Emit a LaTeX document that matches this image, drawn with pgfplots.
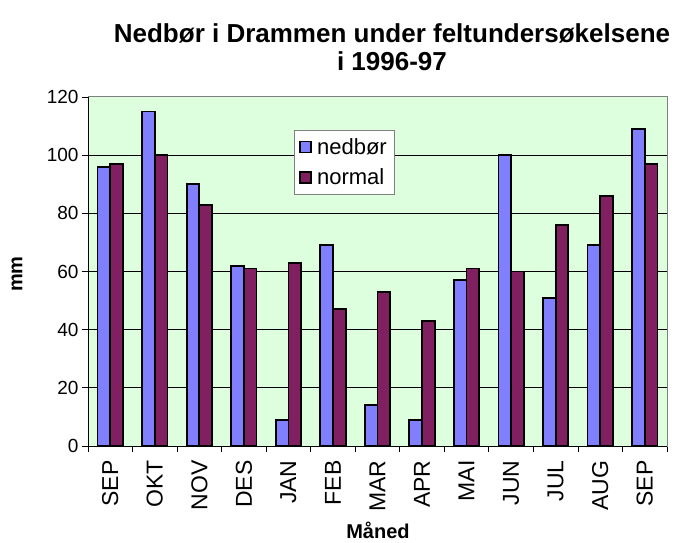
\documentclass[border=0pt]{standalone}
\usepackage{pgfplots}
\pgfplotsset{compat=1.18}
\usepackage{fontspec}
\setmainfont{Liberation Sans}
\definecolor{plotbg}{RGB}{221,255,221}
\definecolor{nedbor}{RGB}{128,128,255}
\definecolor{normalc}{RGB}{128,32,96}
\begin{document}
\begin{tikzpicture}
\useasboundingbox (-88bp,-97bp) rectangle (592bp,446bp);
\begin{axis}[
  scale only axis, width=579bp, height=349bp,
  ybar=0pt, bar width=0.285,
  xmin=-0.5, xmax=12.5, ymin=0, ymax=120,
  xtick={0,...,12},
  xticklabels={SEP,OKT,NOV,DES,JAN,FEB,MAR,APR,MAI,JUN,JUL,AUG,SEP},
  minor xtick={-0.5,0.5,...,12.5},
  major x tick style={draw=none},
  ytick={0,20,...,100},
  extra y ticks={120}, extra y tick style={grid=none},
  ymajorgrids, grid style={black, line width=0.8bp},
  tick align=outside, tick pos=left,
  major tick length=6bp, minor tick length=6bp,
  tick style={black, line width=0.8bp},
  axis background/.style={fill=plotbg},
  axis line style={gray, line width=1bp},
  /pgf/number format/assume math mode=true,
  y tick label style={font=\fontsize{19bp}{22bp}\selectfont},
  x tick label style={rotate=90, anchor=east, font=\fontsize{23bp}{26bp}\selectfont},
  xticklabel shift=5bp,
  clip=false,
  legend style={at={(0.356,0.905)}, anchor=north west, draw=gray, fill=white,
    font=\fontsize{22bp}{25bp}\selectfont, row sep=9bp, inner xsep=5bp, inner ysep=6bp,
    cells={anchor=west}, /tikz/every odd column/.append style={column sep=3bp}},
  legend image code/.code={\draw[#1, draw=black, line width=1.8bp] (0bp,-5.5bp) rectangle (11bp,5.5bp);},
]
\addplot[fill=nedbor, draw=black, line width=1.8bp] coordinates {
  (0,96) (1,115) (2,90) (3,62) (4,9) (5,69) (6,14)
  (7,9) (8,57) (9,100) (10,51) (11,69) (12,109)};
\addlegendentry{nedbør}
\addplot[fill=normalc, draw=black, line width=1.8bp] coordinates {
  (0,97) (1,100) (2,83) (3,61) (4,63) (5,47) (6,53)
  (7,43) (8,61) (9,60) (10,76) (11,86) (12,97)};
\addlegendentry{normal}
\draw[black, line width=1bp] (rel axis cs:0,1) -- (rel axis cs:0,0) -- (rel axis cs:1,0);
\end{axis}
\node[align=center, font=\bfseries\fontsize{26bp}{28bp}\selectfont] at (304bp,399bp)
  {Nedbør i Drammen under feltundersøkelsene\\i 1996-97};
\node[rotate=90, font=\bfseries\fontsize{20bp}{23bp}\selectfont] at (-71bp,172bp) {mm};
\node[font=\bfseries\fontsize{20bp}{23bp}\selectfont] at (290bp,-84bp) {Måned};
\end{tikzpicture}
\end{document}
